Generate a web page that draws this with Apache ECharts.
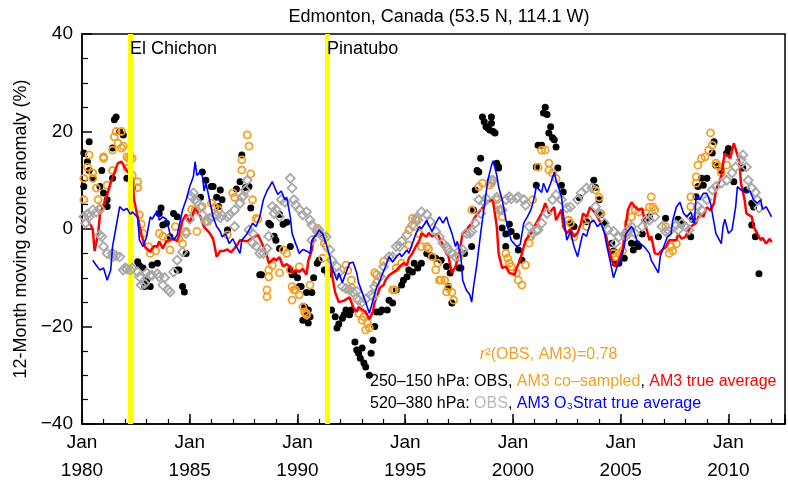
<!DOCTYPE html>
<html>
<head>
<meta charset="utf-8">
<script src="https://cdn.jsdelivr.net/npm/echarts@6/dist/echarts.min.js"></script>
<style>html,body{margin:0;padding:0;background:#fff;}#c{width:788px;height:487px;}</style>
</head>
<body>
<div id="c"></div>
<script>
// x values: months since Jan 1980
var yearTickLabels = ['1980','1985','1990','1995','2000','2005','2010'];
var volcanoNames = ['El Chichon', 'Pinatubo'];
var volcanoMonths = [26.7, 136.5];
var r2Value = '0.78';

var am3TrueAvg = [[3,2],[6,0],[7,-4.5],[9,-1],[10,3],[12,5],[14,7],[16,9.5],[18,11.5],[20,13.5],[22,13.8],[24,12.5],[26,11.5],[27,12],[28,10.5],[29,6],[31,2.5],[33,-1],[35,-3.6],[38,-4.7],[40,-3.5],[42,-3.6],[43,-2.5],[45,-4],[47,-2.5],[51,-2],[53,-2.5],[54,-1.4],[56,1.8],[58,3],[60,1.2],[63,4.3],[66,2.5],[68,0.4],[71,-0.8],[73,-2],[75,-5.7],[77,-4.5],[79,-4.5],[81,-4.2],[83,-4.8],[86,-3.5],[88,-2.3],[92,-2.5],[95,-1.8],[98,-1.2],[99,-0.9],[101,-3.6],[103,-5.5],[104,-7],[107,-6],[108,-6.5],[110,-5.8],[112,-7.7],[114,-7.2],[116,-7.8],[117,-9],[119,-8.5],[121,-8.8],[123,-8.2],[125,-9.4],[126,-6.6],[128,-4.3],[129,-1.6],[132,-1],[135,-2],[137,-4.3],[139,-9],[141,-13],[143,-15],[146,-14.7],[149,-14],[151,-16],[153,-17],[154,-16],[156,-16.5],[158,-17],[160,-18.5],[162,-17],[163,-15],[166,-12],[168,-11.5],[169,-10.5],[171,-9.5],[173,-9],[175,-8.5],[177,-7.7],[179,-7],[181,-7.4],[182,-6],[184,-5],[186,-3.5],[188,-2.3],[189,-0.9],[192,-1.6],[193,-0.8],[195,-1.5],[198,-1],[200,-2.5],[203,-5],[204,-5.5],[206,-9],[208,-7.7],[210,-5],[212,-0.9],[214,-0.2],[217,1.2],[219,2.5],[222,3.9],[225,5.3],[228,6],[229,5.5],[231,0.5],[232,-5],[234,-8],[236,-7.7],[238,-9],[241,-9.4],[242,-8],[244,-6.4],[247,-2.3],[250,-0.9],[253,1.2],[256,3.2],[258,5.3],[260,3.2],[263,4.5],[264,1.8],[267,4],[268,0.5],[270,-0.9],[272,0],[274,-1.6],[276,-0.8],[278,1.2],[279,3.2],[281,2.5],[283,4.5],[286,3.2],[288,1.8],[290,0.5],[292,-1.6],[293,-3.6],[295,-6.4],[297,-7.7],[299,-6.4],[301,-4.3],[303,1.2],[304,3.9],[306,5.5],[308,4.5],[310,3.9],[312,4.2],[314,0.5],[316,-2.3],[317,-1.5],[319,-5],[321,-5.2],[323,-4.3],[325,-3.8],[327,-2.3],[328,-2],[331,-2.3],[332,-1],[334,-2],[336,-1.6],[339,0.5],[342,1.2],[344,3.2],[346,2.5],[348,4.5],[350,3.8],[352,5.3],[353,8],[356,10.7],[357,13.5],[358,15.5],[361,14.5],[363,17.6],[364,17.6],[366,14],[367,9.4],[369,6],[370,3.2],[373,2.5],[374,0.5],[376,-0.9],[378,-2.3],[379,-1.8],[381,-3],[383,-2],[384,-2.7]];

var am3O3Strat = [[6,-6.4],[8,-7.5],[10,-8.4],[12,-8],[14,-10.5],[16,-8.4],[17,-3.6],[19,0.5],[21,4.6],[23,3.8],[25,4.2],[27,3],[28,3.5],[31,2.4],[32,-2.3],[34,-3.6],[36,-1.6],[38,2.5],[39,2],[42,3.8],[43,1.8],[45,2.5],[47,2],[49,-0.9],[51,-2.3],[53,-1.2],[54,0.5],[56,3.9],[58,6],[60,8.7],[62,10.7],[63,13.8],[64,11],[66,11.8],[67,11],[68,7.8],[69,9.5],[71,6],[73,2.5],[75,0.5],[77,-0.5],[78,-1.6],[80,-1],[82,-3],[84,-2],[86,-3.6],[88,-5],[89,-2.3],[92,-0.9],[93,-0.5],[95,1.2],[97,0.5],[99,2.5],[101,6],[103,7.8],[106,9.7],[107,8.8],[109,7.1],[111,7.8],[113,6],[114,6.5],[116,2.5],[117,-0.9],[119,-3],[121,-5],[123,-4.2],[125,-4.5],[127,-5],[128,-2.3],[131,-0.9],[132,-0.2],[134,-1],[136,-3],[138,-5.7],[139,-7.7],[142,-10.5],[143,-9],[145,-11],[147,-9],[149,-7],[151,-6.8],[153,-9],[154,-11],[156,-13],[158,-15],[160,-17.3],[162,-14.7],[164,-12],[166,-10.5],[167,-9.5],[169,-7.7],[171,-5.7],[173,-6.8],[175,-5.7],[177,-5],[178,-5.7],[181,-4.3],[182,-5],[184,-3],[186,-0.9],[188,0.5],[189,0],[192,1.8],[193,0.8],[195,-0.5],[197,1.2],[199,2.5],[201,1.2],[203,2.5],[204,1.2],[206,-0.9],[208,-3.6],[209,-2.5],[211,-5.7],[212,-10.5],[214,-12.5],[216,-13.5],[217,-15],[218,-12],[220,-7],[222,-0.9],[224,4.6],[226,10],[228,13],[229,14],[231,11],[232,8.7],[234,6],[236,2],[238,-1],[239,-2.3],[242,-3.6],[244,-3.2],[246,1.2],[248,2.5],[250,3.9],[252,6.7],[253,8.7],[256,7.5],[257,9.4],[259,7.5],[261,9.4],[263,11.7],[264,10],[267,6.7],[268,3.2],[270,-2.3],[272,-0.5],[274,-3.6],[276,-5.7],[278,-2.3],[279,-0.9],[281,-1.5],[283,1.2],[285,1.8],[287,0.5],[289,1.2],[291,-0.9],[292,-3],[294,-6.4],[296,-10],[298,-7.7],[300,-6.4],[302,-3.6],[303,-0.9],[306,0.5],[307,0],[309,-2.3],[311,-3],[313,-3.6],[316,-5],[317,-6.4],[319,-7.7],[321,-9],[322,-5.7],[324,-3.6],[326,-1.6],[328,-1],[329,1.8],[331,4.5],[333,5.5],[335,3.2],[337,2.5],[339,3.5],[341,1.2],[342,6.7],[344,6],[346,7.3],[348,7.3],[350,5.3],[352,1.2],[353,-0.9],[356,-3],[357,0.5],[358,2],[360,-0.9],[362,-0.2],[364,4.5],[365,8.7],[367,8],[368,8.2],[370,7.5],[372,7.8],[374,6],[376,5.3],[378,6],[379,4],[381,4.6],[383,3.2],[384,2.5]];

var obsUpper = [[1,8.7],[1,15.6],[3,13.8],[4,12],[4,17.9],[6,10.3],[10,8.7],[11,12],[12,7.4],[14,4.6],[14,6],[17,10.4],[17,16.6],[18,22.4],[19,23],[21,20],[23,19.3],[25,10.4],[28,8.4],[31,-6.7],[32,-7.5],[34,-8],[35,-11.8],[36,-10.5],[38,-11.8],[39,-7.4],[42,-7],[43,3.2],[44,4.3],[45,0.8],[47,1.2],[49,-1.6],[51,3.2],[53,2.5],[53,-8.4],[54,-8.4],[56,-11.8],[57,-12.9],[58,-5],[66,6.5],[67,11.7],[69,10],[72,8.7],[73,8.7],[75,6.5],[76,4.6],[77,8],[78,6],[81,-0.2],[86,8.2],[88,9.7],[89,15.2],[91,8.5],[93,8.7],[94,4.3],[99,-9.4],[100,-9.4],[104,1.2],[105,0.8],[107,-1.5],[108,-2.3],[110,3],[110,-4],[112,1],[114,1.4],[116,-3.6],[116,-8.4],[117,-9.4],[118,-9],[120,-10],[121,-11.8],[122,-11.8],[124,-16],[125,-17.6],[125,-13],[126,-16.6],[123,-18.7],[126,-19.3],[127,-18],[128,-13],[129,-10],[131,-7],[132,-6.4],[135,-8.4],[137,-9.4],[138,-8.8],[139,-16.6],[141,-18],[142,-20.3],[143,-19.5],[145,-18.3],[146,-17.6],[147,-16.6],[149,-17.6],[150,-16.6],[152,-23.2],[153,-24.8],[154,-25.5],[155,-26.5],[156,-24.4],[157,-27.5],[158,-28.3],[160,-30],[161,-25.5],[162,-22.8],[163,-20],[164,-17],[166,-17],[167,-16.6],[170,-16.6],[171,-14.6],[173,-15.2],[175,-12.5],[178,-11.5],[179,-10.5],[181,-9.8],[182,-8.4],[184,-8.8],[185,-7],[187,-8],[189,-7],[192,-5],[194,-5.5],[197,-6],[200,-6.4],[203,-7.7],[204,-11.8],[205,-9],[206,-15.2],[210,-8],[211,-8],[213,-5],[217,-3.6],[218,3.9],[219,8],[220,12],[221,11.7],[222,14.5],[223,23],[224,22],[225,21],[226,20.7],[227,20.3],[228,21.7],[228,23],[229,20],[230,19.7],[231,13.5],[232,12.5],[232,12.7],[234,0.2],[236,-1],[236,-3.6],[238,1],[239,-0.5],[242,-1.5],[243,-4.3],[245,-6.4],[253,9],[253,12.7],[254,17.2],[256,17.2],[257,23.8],[258,25],[259,23.5],[260,19.7],[261,21],[262,18.7],[263,18.3],[264,16.8],[265,12.5],[267,9],[268,7.6],[272,1.2],[274,0.5],[277,6.4],[281,1.5],[285,10],[286,8.5],[288,6],[289,2.9],[291,1.2],[295,-2.9],[296,-4.5],[297,-7],[299,-7],[302,-6],[306,-2.9],[307,-4.3],[309,-3],[310,-3.6],[312,-1],[314,1.8],[316,2.5],[321,-1.6],[325,2.2],[332,2],[334,1],[339,-1.6],[340,2],[342,6.6],[343,8.7],[345,10.4],[346,9],[348,10.4],[351,15.6],[352,17.9],[353,13.1],[356,12],[359,15.6],[360,16.5],[363,9.7],[368,12.5],[370,8],[373,5.3],[374,4.5],[373,0.8],[375,-1.6],[377,-9.2]];

var am3CoSampled = [[1,10.4],[1,6],[3,12.7],[3,3],[4,15.2],[6,11.5],[6,10.4],[8,8.4],[9,6],[10,4],[12,14.5],[12,14.8],[14,9],[17,12],[17,16.2],[18,18.9],[19,20],[20,17.6],[22,20],[22,16.6],[23,17],[25,14.8],[26,14.5],[27,14.8],[28,14.5],[25,12.5],[28,11],[31,9.7],[31,8.5],[32,2.9],[33,1],[34,-0.9],[37,-3.6],[38,-5],[41,-4.5],[43,-0.9],[45,-1.5],[48,-2],[49,-4.3],[52,0.5],[54,-2],[56,-3],[58,-0.5],[61,4],[63,3.9],[64,-0.5],[67,4.6],[70,1.5],[72,5.3],[74,4.5],[76,4],[81,-1.2],[84,7.4],[85,6.5],[89,12.1],[89,14.2],[92,19.3],[93,17],[94,11.3],[95,6],[97,2.2],[98,2],[104,-8.4],[106,-7.5],[104,-9.8],[103,-13.9],[103,-12.5],[110,-9],[112,-4.3],[114,-5],[116,-8.4],[117,-11.8],[117,-14.6],[118,-12.5],[119,-12.5],[121,-13.5],[121,-7.7],[123,-16],[124,-17],[125,-17.6],[125,-17.3],[127,-11.5],[131,0.2],[132,-0.9],[134,-6],[135,-2.9],[136,-3.5],[147,-7.4],[148,-8.5],[150,-10.5],[150,-12],[153,-14.2],[154,-17.3],[156,-18.7],[157,-18],[158,-20.7],[159,-19.3],[160,-20.3],[163,-9],[164,-9.4],[164,-11],[168,-6.7],[173,-12.5],[174,-12.5],[175,-8],[178,-7],[182,-3.3],[182,-0.2],[184,2.2],[185,0.5],[186,1.8],[188,-1],[189,-3.6],[192,-3.6],[193,-4],[195,-5.7],[197,-8.4],[198,-7],[199,-10.5],[200,-10.5],[202,-10.5],[203,-12.9],[204,-12.1],[206,-13],[207,-14.6],[210,-5.7],[217,3.9],[221,8.7],[223,9.4],[227,9],[228,9.4],[231,6],[232,3.9],[234,2.5],[236,-5],[237,-6],[238,-7],[239,-7.7],[242,-9],[243,-10.5],[245,-11.5],[247,-7.4],[249,-2.9],[250,-1.5],[251,6],[254,12.7],[256,16.2],[258,16.2],[260,13.5],[260,12.1],[262,11.5],[264,10.4],[271,1.8],[272,1.2],[274,-1.6],[281,0.5],[282,2],[286,8],[288,6.5],[289,3.2],[296,-5],[297,-5.7],[299,-5],[301,-4.5],[303,-0.9],[304,1.2],[306,2.5],[308,3.9],[310,3.5],[314,3.2],[316,4.5],[317,6.6],[318,4.5],[319,3.9],[325,0.5],[327,-5],[328,-3.6],[329,-4.5],[331,-3],[339,4.6],[339,6.6],[342,9.4],[342,10.7],[343,13.1],[345,14.5],[347,14.8],[349,16.2],[350,19.7],[351,17.2],[353,13.5],[354,13],[356,11.5],[359,13.1]];

var obsLower = [[1,2.5],[2,1.2],[3,3],[4,2.5],[6,3.9],[8,3.5],[10,4.2],[10,-1.2],[11,-1.6],[12,-3.6],[14,-5],[17,-5.7],[17,-5],[19,-5.5],[21,-5.7],[23,-8.4],[24,-8],[25,-8.2],[27,-8.4],[28,-8],[31,-8.8],[32,-9.8],[33,-11.5],[35,-11.2],[36,-9],[38,-9.5],[39,-9.5],[42,-9.2],[43,-9.8],[45,-11.5],[46,-10],[48,-12.5],[49,-12.9],[51,-8.8],[53,-6.4],[56,-4.7],[58,-0.9],[60,2],[61,6.6],[62,7.4],[63,6],[64,5.5],[66,4.5],[67,2.9],[69,1.6],[71,2.2],[73,2.5],[75,2.8],[77,2.3],[78,2.8],[81,2.5],[82,2.9],[85,3.9],[85,0.5],[88,5.3],[89,6.5],[90,6.8],[91,8],[92,10],[93,-0.2],[95,-0.9],[95,-2.9],[97,-3.5],[99,-5],[101,-5],[103,-4],[104,-1.5],[106,4.6],[107,3.2],[108,4],[110,2.5],[111,6],[113,5.5],[116,10.4],[117,8.4],[118,6],[119,4.9],[121,4],[123,2.9],[125,3.5],[127,1.8],[128,-2.3],[128,0.8],[131,-0.5],[132,-0.2],[134,-1.6],[136,-1.6],[138,-4.3],[139,-6.4],[142,-7.7],[143,-9],[145,-11.8],[147,-12.2],[149,-12.5],[151,-13],[153,-12.8],[154,-14.6],[156,-15],[158,-14.4],[161,-13.5],[162,-13.9],[163,-11.8],[166,-9.8],[168,-7.7],[171,-5.7],[173,-5.7],[175,-3.6],[177,-3.6],[178,-2.5],[181,-1.2],[184,0.8],[186,2.2],[187,1.8],[189,3.5],[192,3],[194,1.5],[197,-0.5],[199,-1.6],[201,-2.9],[203,-3.6],[204,-4.3],[206,-5],[208,-5.7],[210,-4.5],[212,-4.3],[214,-0.9],[216,-0.9],[217,-0.5],[219,1.2],[221,6],[222,3.2],[224,5.5],[225,6.3],[228,10],[229,10],[231,6.5],[233,3.9],[234,3.9],[236,6],[238,6.6],[239,6.2],[242,6.3],[243,6.6],[246,6],[247,4.9],[249,0.5],[251,-0.9],[253,-0.3],[254,-0.2],[256,1.2],[259,3.2],[262,6],[264,7],[267,6],[270,4.3],[272,4.5],[276,6],[278,7.4],[281,8.4],[284,8.4],[286,4.6],[288,3.2],[291,1.2],[293,-0.2],[296,-0.5],[297,-2.9],[299,-1.6],[302,-1.2],[303,-1.5],[304,-0.2],[306,0.5],[308,-0.9],[312,0.5],[314,1.8],[316,1.8],[319,2.5],[323,0.5],[325,-0.5],[327,-0.5],[331,0.8],[332,-0.2],[334,1.2],[336,0.5],[338,-0.2],[339,2.5],[342,2.5],[343,4.6],[345,3.9],[348,6],[351,8],[353,8.7],[356,9.4],[359,10],[362,11.5],[364,12.7],[367,14.2],[368,15.2],[370,12.7],[371,10],[373,8.4],[375,7.5],[376,6],[377,4.3]];

var FONT = '"Liberation Sans", Arial, Helvetica, sans-serif';
var ORANGE = '#F2A024', GREY = '#A8A8A8', LGREY = '#B8B8B8';

var chart = echarts.init(document.getElementById('c'), null, {renderer: 'canvas'});
var labelLevel = 37;
var option = {
  animation: false,
  backgroundColor: '#fff',
  title: {
    text: 'Edmonton, Canada (53.5 N, 114.1 W)',
    left: 434, textAlign: 'center', top: 3,
    textStyle: {fontSize: 18, fontWeight: 'normal', color: '#000', fontFamily: FONT}
  },
  grid: {left: 82, right: 1, top: 34, bottom: 63, show: true, borderColor: '#000', borderWidth: 1.5, backgroundColor: 'transparent'},
  xAxis: [{
    type: 'value', min: 0, max: 391.5, interval: 60,
    axisLine: {onZero: false, lineStyle: {color: '#000', width: 1.5}},
    axisTick: {inside: true, length: 10, lineStyle: {color: '#000', width: 1.5}},
    splitLine: {show: false},
    axisLabel: {
      margin: 5, color: '#000', fontSize: 19, lineHeight: 28, fontFamily: FONT,
      formatter: function (v) {
        var i = Math.round(v / 60);
        return (Math.abs(v - i * 60) < 1e-6 && yearTickLabels[i]) ? 'Jan\n' + yearTickLabels[i] : '';
      }
    }
  }, {
    type: 'value', min: 0, max: 391.5, interval: 12, position: 'bottom',
    axisLine: {show: false, onZero: false},
    axisTick: {inside: true, length: 5, lineStyle: {color: '#000', width: 1.2}},
    axisLabel: {show: false}, splitLine: {show: false}
  }],
  yAxis: {
    type: 'value', min: -40, max: 40, interval: 20,
    name: '12-Month moving ozone anomaly (%)', nameLocation: 'middle', nameGap: 50,
    nameTextStyle: {fontSize: 18, color: '#000', fontFamily: FONT},
    axisLine: {show: true, onZero: false, lineStyle: {color: '#000', width: 1.5}},
    axisTick: {show: true, inside: true, length: 10, lineStyle: {color: '#000', width: 1.5}},
    minorTick: {show: true, splitNumber: 4, length: 6, lineStyle: {color: '#000', width: 1.2}},
    splitLine: {show: false},
    axisLabel: {margin: 9, color: '#000', fontSize: 19, fontFamily: FONT,
      formatter: function (v) { return String(v).replace('-', '\u2212'); }}
  },
  series: [
    {
      name: 'volcano', type: 'line', data: [], z: 1, silent: true,
      markLine: {
        symbol: 'none', silent: true, animation: false,
        label: {show: false},
        lineStyle: {color: '#FFFF00', width: 5, type: 'solid', opacity: 1},
        data: volcanoMonths.map(function (m) { return {xAxis: m}; })
      }
    },
    {
      name: 'volcanoLabel', type: 'scatter', z: 10, silent: true, symbolSize: 0,
      data: volcanoMonths.map(function (m, i) { return [m, labelLevel, volcanoNames[i]]; }),
      itemStyle: {opacity: 1},
      label: {show: true, position: 'right', distance: 0, color: '#000', fontSize: 18, fontFamily: FONT,
        formatter: function (p) { return p.data[2]; }}
    },
    {
      name: 'OBS 250-150', type: 'scatter', z: 2, data: obsUpper, symbol: 'circle', symbolSize: 7,
      itemStyle: {color: '#000', opacity: 1}
    },
    {
      name: 'AM3 co-sampled', type: 'scatter', z: 3, data: am3CoSampled, symbol: 'circle', symbolSize: 7,
      itemStyle: {color: 'rgba(0,0,0,0)', borderColor: ORANGE, borderWidth: 1.8, opacity: 1}
    },
    {
      name: 'AM3 true average', type: 'line', z: 4, data: am3TrueAvg, showSymbol: false,
      lineStyle: {color: '#FF0000', width: 2.5}
    },
    {
      name: 'OBS 520-380', type: 'scatter', z: 5, data: obsLower, symbol: 'diamond', symbolSize: 9,
      itemStyle: {color: 'rgba(0,0,0,0)', borderColor: GREY, borderWidth: 1.8, opacity: 1}
    },
    {
      name: 'AM3 O3Strat true average', type: 'line', z: 6, data: am3O3Strat, showSymbol: false,
      lineStyle: {color: '#0000FF', width: 1.6}
    }
  ],
  graphic: [
    {
      type: 'text', x: 480, y: 355, z: 100,
      style: {
        text: '{i|r}{n|\u00b2(OBS, AM3)=' + r2Value + '}',
        verticalAlign: 'middle',
        rich: {
          i: {fill: ORANGE, fontSize: 16, fontStyle: 'italic', fontFamily: FONT},
          n: {fill: ORANGE, fontSize: 16, fontFamily: FONT}
        }
      }
    },
    {
      type: 'text', x: 370, y: 382, z: 100,
      style: {
        text: '{k|250\u2013150 hPa: OBS, }{o|AM3 co\u2013sampled}{k|, }{r|AM3 true average}',
        verticalAlign: 'middle',
        rich: {
          k: {fill: '#000', fontSize: 16, fontFamily: FONT},
          o: {fill: ORANGE, fontSize: 16, fontFamily: FONT},
          r: {fill: '#FF0000', fontSize: 16, fontFamily: FONT}
        }
      }
    },
    {
      type: 'text', x: 370, y: 404, z: 100,
      style: {
        text: '{k|520\u2013380 hPa: }{g|OBS}{k|, }{b|AM3 O\u2083Strat true average}',
        verticalAlign: 'middle',
        rich: {
          k: {fill: '#000', fontSize: 16, fontFamily: FONT},
          g: {fill: LGREY, fontSize: 16, fontFamily: FONT},
          b: {fill: '#0000FF', fontSize: 16, fontFamily: FONT}
        }
      }
    }
  ]
};
chart.setOption(option);
</script>
</body>
</html>
